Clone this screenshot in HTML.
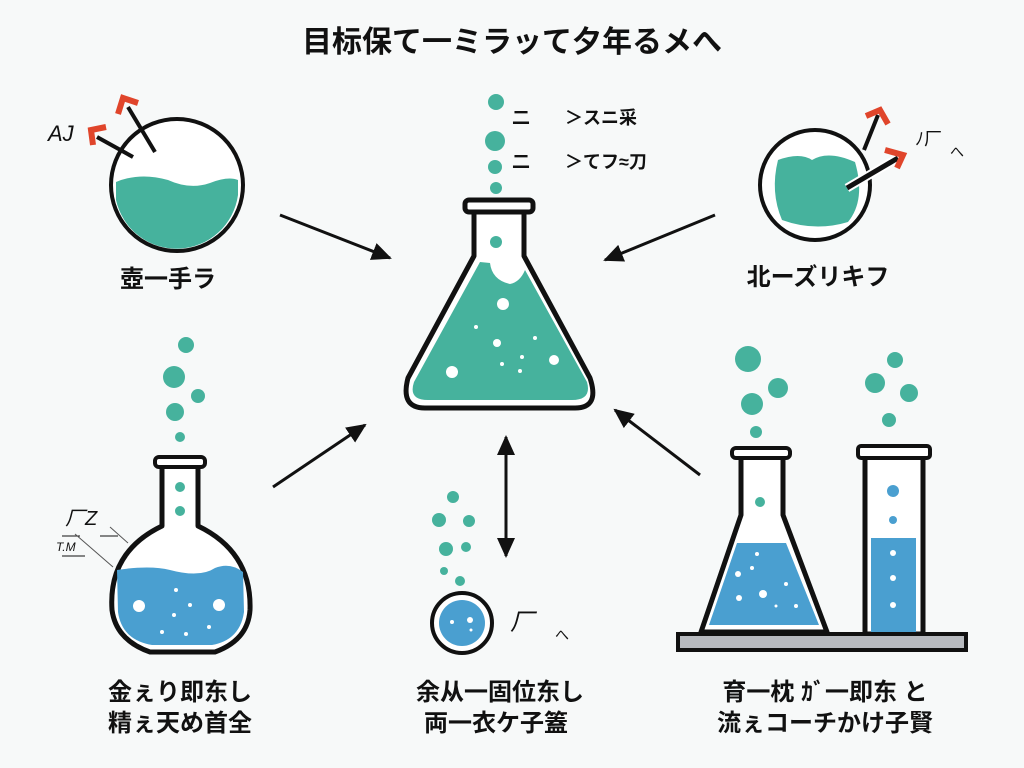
<!DOCTYPE html>
<html><head><meta charset="utf-8"><style>
html,body{margin:0;padding:0;background:#f7f9f9;}
svg{display:block}
text{font-family:"Liberation Sans","Noto Sans CJK JP",sans-serif;fill:#111;}
.lb{font-weight:600}
</style></head><body>
<svg width="1024" height="768" viewBox="0 0 1024 768" xmlns="http://www.w3.org/2000/svg">
<defs>
<marker id="ah2" markerWidth="20" markerHeight="18" refX="18" refY="9" orient="auto-start-reverse" markerUnits="userSpaceOnUse"><path d="M0,0 L20,9 L0,18z" fill="#111"/></marker>
</defs>
<rect width="1024" height="768" fill="#f7f9f9"/>
<text x="512" y="52" font-size="30" text-anchor="middle" font-weight="bold">目标保て一ミラッて夕年るメへ</text>

<!-- top-left sphere -->
<circle cx="177" cy="185" r="66" fill="#fff" stroke="#111" stroke-width="4"/>
<path d="M116,182 Q140,172 168,180 Q190,190 210,183 Q228,176 238,180 L238,195 A62,62 0 0 1 116,200 Z" fill="#46b29d"/>
<line x1="155" y1="152" x2="128" y2="107" stroke="#111" stroke-width="4"/>
<line x1="133" y1="157" x2="97" y2="137" stroke="#111" stroke-width="4"/>
<path d="M118,114 L123,98 L138,103" fill="none" stroke="#e0452b" stroke-width="6"/>
<path d="M93,145 L91,130 L106,127" fill="none" stroke="#e0452b" stroke-width="6"/>
<text x="48" y="141" font-size="22" font-style="italic">AJ</text>
<text x="168" y="287" font-size="24" text-anchor="middle" class="lb">壺一手ラ</text>

<!-- top-right sphere -->
<circle cx="815" cy="185" r="55" fill="#fff" stroke="#111" stroke-width="4"/>
<path d="M778,160 Q800,152 812,160 Q828,150 855,162 Q866,200 848,222 Q815,232 782,220 Q770,192 778,160Z" fill="#46b29d"/>
<line x1="847" y1="188" x2="898" y2="158" stroke="#fff" stroke-width="9"/>
<line x1="847" y1="188" x2="898" y2="158" stroke="#111" stroke-width="5"/>
<line x1="864" y1="150" x2="878" y2="115" stroke="#111" stroke-width="4"/>
<path d="M885,150 L903,155 L897,168" fill="none" stroke="#e0452b" stroke-width="6"/>
<path d="M866,116 L880,110 L888,124" fill="none" stroke="#e0452b" stroke-width="6"/>
<text x="915" y="145" font-size="18">ﾉ厂</text><text x="950" y="157" font-size="14">へ</text>
<text x="818" y="285" font-size="24" text-anchor="middle" class="lb">北ーズリキフ</text>

<!-- central flask -->
<circle cx="496" cy="102" r="8" fill="#46b29d"/>
<circle cx="495" cy="141" r="10" fill="#46b29d"/>
<circle cx="495" cy="167" r="7" fill="#46b29d"/>
<circle cx="496" cy="188" r="6" fill="#46b29d"/>
<text x="512" y="124" font-size="18" class="lb">二</text><text x="565" y="124" font-size="18" class="lb">＞スニ采</text>
<text x="512" y="168" font-size="18" class="lb">二</text><text x="565" y="168" font-size="18" class="lb">＞てフ≈刀</text>
<path d="M474,212 L474,256 L408,378 Q400,408 425,408 L575,408 Q600,408 590,378 L524,256 L524,212" fill="#fff" stroke="#111" stroke-width="5" stroke-linejoin="round"/>
<rect x="465" y="200" width="68" height="12" rx="4" fill="#fff" stroke="#111" stroke-width="5"/>
<circle cx="496" cy="242" r="6" fill="#46b29d"/>
<path d="M490,263 Q492,280 510,284 Q520,282 525,270 L587,382 Q592,400 572,400 L428,400 Q408,400 414,382 L480,262Z" fill="#46b29d"/>
<circle cx="503" cy="304" r="6" fill="#fff"/><circle cx="452" cy="372" r="6" fill="#fff"/><circle cx="554" cy="360" r="5" fill="#fff"/>
<circle cx="497" cy="343" r="4" fill="#fff"/><circle cx="476" cy="327" r="2" fill="#fff"/><circle cx="535" cy="338" r="2" fill="#fff"/><circle cx="522" cy="357" r="2" fill="#fff"/><circle cx="502" cy="364" r="2" fill="#fff"/><circle cx="520" cy="371" r="2" fill="#fff"/>

<!-- arrows -->
<line x1="280" y1="215" x2="390" y2="258" stroke="#111" stroke-width="3" marker-end="url(#ah2)"/>
<line x1="715" y1="215" x2="605" y2="260" stroke="#111" stroke-width="3" marker-end="url(#ah2)"/>
<line x1="273" y1="487" x2="365" y2="425" stroke="#111" stroke-width="3" marker-end="url(#ah2)"/>
<line x1="700" y1="475" x2="615" y2="410" stroke="#111" stroke-width="3" marker-end="url(#ah2)"/>
<line x1="506" y1="437" x2="506" y2="556" stroke="#111" stroke-width="3" marker-end="url(#ah2)" marker-start="url(#ah2)"/>

<!-- bottom-left round flask -->
<circle cx="186" cy="345" r="8" fill="#46b29d"/><circle cx="174" cy="377" r="11" fill="#46b29d"/><circle cx="198" cy="396" r="7" fill="#46b29d"/><circle cx="175" cy="412" r="9" fill="#46b29d"/><circle cx="180" cy="437" r="5" fill="#46b29d"/>
<path d="M162,465 L162,526 Q108,552 112,610 Q116,640 150,652 L215,652 Q248,640 250,610 Q252,552 198,526 L198,465" fill="#fff" stroke="#111" stroke-width="5" stroke-linejoin="round"/>
<rect x="155" y="457" width="50" height="10" rx="4" fill="#fff" stroke="#111" stroke-width="4"/>
<circle cx="180" cy="487" r="5" fill="#46b29d"/><circle cx="180" cy="511" r="5" fill="#46b29d"/>
<path d="M117,570 Q150,565 170,570 Q200,578 215,568 Q230,562 243,572 L244,612 Q240,640 212,645 L152,645 Q122,640 118,612Z" fill="#4a9fd0"/>
<circle cx="139" cy="606" r="6" fill="#fff"/><circle cx="219" cy="605" r="6" fill="#fff"/>
<circle cx="176" cy="590" r="2" fill="#fff"/><circle cx="190" cy="605" r="2" fill="#fff"/><circle cx="174" cy="615" r="2" fill="#fff"/><circle cx="162" cy="632" r="2" fill="#fff"/><circle cx="186" cy="634" r="2" fill="#fff"/><circle cx="209" cy="627" r="2" fill="#fff"/>
<text x="65" y="525" font-size="20" font-style="italic">厂Z</text><text x="56" y="551" font-size="12" font-style="italic">T.M</text>
<line x1="62" y1="536" x2="80" y2="536" stroke="#111" stroke-width="1"/><line x1="100" y1="536" x2="118" y2="536" stroke="#111" stroke-width="1"/>
<line x1="62" y1="556" x2="85" y2="556" stroke="#111" stroke-width="1"/>
<line x1="110" y1="527" x2="128" y2="543" stroke="#555" stroke-width="1"/><line x1="75" y1="534" x2="113" y2="567" stroke="#555" stroke-width="1"/>
<text x="180" y="700" font-size="24" text-anchor="middle" class="lb">金ぇり即东し</text>
<text x="180" y="731" font-size="24" text-anchor="middle" class="lb">精ぇ天め首全</text>

<!-- small sphere -->
<circle cx="453" cy="497" r="6" fill="#46b29d"/><circle cx="439" cy="520" r="7" fill="#46b29d"/><circle cx="469" cy="521" r="6" fill="#46b29d"/><circle cx="446" cy="549" r="7" fill="#46b29d"/><circle cx="466" cy="547" r="5" fill="#46b29d"/><circle cx="444" cy="571" r="4" fill="#46b29d"/><circle cx="460" cy="581" r="5" fill="#46b29d"/>
<circle cx="462" cy="623" r="30" fill="#fff" stroke="#111" stroke-width="4"/>
<circle cx="462" cy="623" r="23" fill="#4a9fd0"/>
<circle cx="470" cy="620" r="3" fill="#fff"/><circle cx="452" cy="622" r="2" fill="#fff"/><circle cx="471" cy="630" r="1.5" fill="#fff"/>
<text x="510" y="630" font-size="24" font-style="italic">厂</text><text x="555" y="640" font-size="14">へ</text>
<text x="500" y="700" font-size="24" text-anchor="middle" class="lb">余从一固位东し</text>
<text x="496" y="731" font-size="24" text-anchor="middle" class="lb">両一衣ケ子篕</text>

<!-- bottom-right erlenmeyer + tube -->
<circle cx="748" cy="359" r="13" fill="#46b29d"/><circle cx="778" cy="388" r="10" fill="#46b29d"/><circle cx="752" cy="404" r="11" fill="#46b29d"/><circle cx="756" cy="432" r="6" fill="#46b29d"/>
<circle cx="895" cy="360" r="8" fill="#46b29d"/><circle cx="875" cy="383" r="10" fill="#46b29d"/><circle cx="909" cy="393" r="9" fill="#46b29d"/><circle cx="889" cy="420" r="7" fill="#46b29d"/>
<path d="M741,457 L741,515 L701,632 L827,632 L783,515 L783,457" fill="#fff" stroke="#111" stroke-width="5" stroke-linejoin="round"/>
<rect x="732" y="448" width="58" height="10" rx="4" fill="#fff" stroke="#111" stroke-width="4"/>
<circle cx="760" cy="502" r="5" fill="#46b29d"/>
<path d="M737,543 L786,543 L819,625 L709,625Z" fill="#4a9fd0"/>
<circle cx="763" cy="594" r="4" fill="#fff"/><circle cx="739" cy="598" r="3" fill="#fff"/><circle cx="738" cy="574" r="3" fill="#fff"/><circle cx="757" cy="554" r="2" fill="#fff"/><circle cx="752" cy="568" r="2" fill="#fff"/><circle cx="786" cy="584" r="2" fill="#fff"/><circle cx="796" cy="606" r="2" fill="#fff"/><circle cx="776" cy="606" r="1.5" fill="#fff"/>
<rect x="865" y="456" width="58" height="178" fill="#fff" stroke="#111" stroke-width="5"/>
<rect x="858" y="446" width="72" height="12" rx="3" fill="#fff" stroke="#111" stroke-width="4"/>
<circle cx="893" cy="491" r="6" fill="#4a9fd0"/><circle cx="893" cy="520" r="4" fill="#4a9fd0"/>
<rect x="871" y="538" width="45" height="94" fill="#4a9fd0"/>
<circle cx="893" cy="553" r="3" fill="#fff"/><circle cx="893" cy="578" r="3" fill="#fff"/><circle cx="893" cy="605" r="3" fill="#fff"/>
<rect x="678" y="634" width="288" height="16" fill="#b7babf" stroke="#111" stroke-width="4"/>
<text x="825" y="700" font-size="24" text-anchor="middle" class="lb">育一枕 ｶﾞ一即东 と</text>
<text x="825" y="731" font-size="24" text-anchor="middle" class="lb">流ぇコーチかけ子賢</text>
</svg>
</body></html>
